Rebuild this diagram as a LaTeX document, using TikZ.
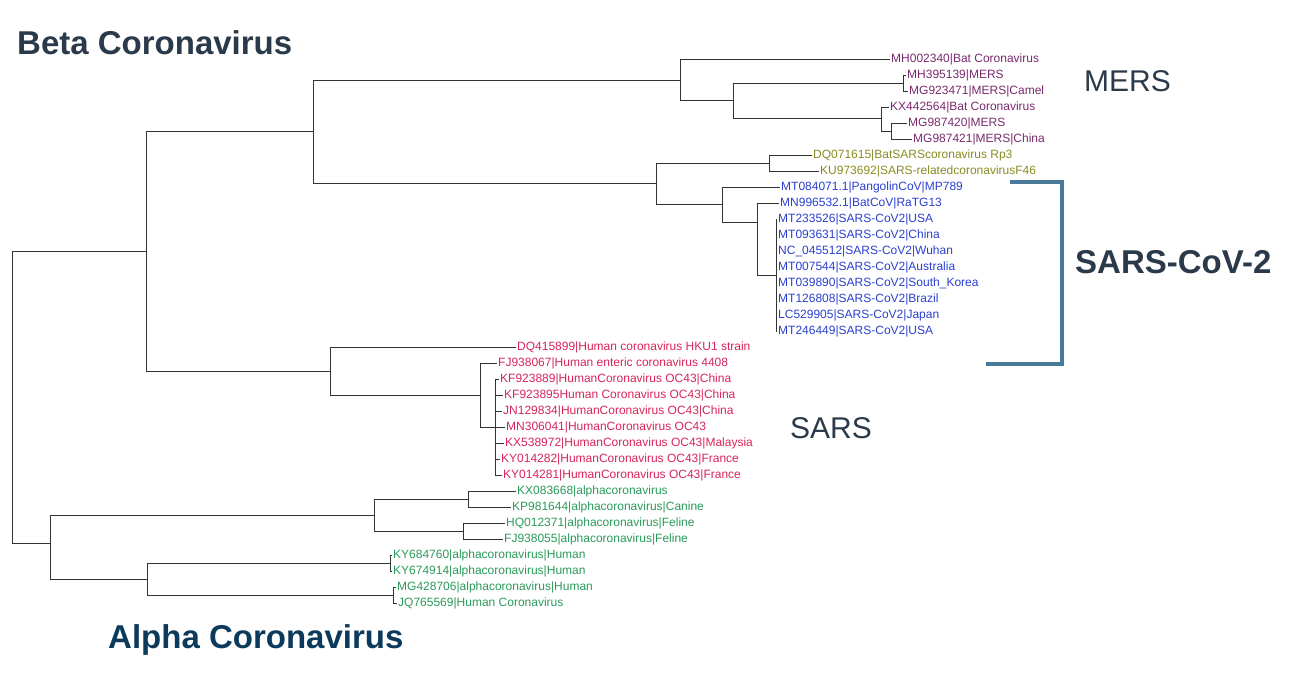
\documentclass[tikz,border=0pt]{standalone}
\usepackage{fontspec}
\setmainfont{Liberation Sans}
\begin{document}
\begin{tikzpicture}[x=1pt,y=-1pt,
  br/.style={draw=black!80,line width=0.8pt},
  lf/.style={anchor=west,inner sep=1pt,font=\fontsize{12}{12}\selectfont},
  mers/.style={lf,text=mersc},olive/.style={lf,text=olivec},
  blu/.style={lf,text=bluec},rd/.style={lf,text=redc},grn/.style={lf,text=greenc},
  big/.style={anchor=west,inner sep=0pt,font=\fontsize{30}{30}\selectfont}]
\definecolor{mersc}{HTML}{7A2A6E}\definecolor{olivec}{HTML}{8A8A22}
\definecolor{bluec}{HTML}{2A3FD0}\definecolor{redc}{HTML}{D8245A}
\definecolor{greenc}{HTML}{2A9A5A}\definecolor{slate}{HTML}{2B3A4A}
\definecolor{navy}{HTML}{0B3A5C}\definecolor{brk}{HTML}{4A7A99}
\useasboundingbox (0,0) rectangle (1298,682);
% leaves
\node[mers] (l1) at (890,59) {MH002340|Bat Coronavirus};
\node[mers] (l2) at (906,75) {MH395139|MERS};
\node[mers] (l3) at (908,91) {MG923471|MERS|Camel};
\node[mers] (l4) at (889,107) {KX442564|Bat Coronavirus};
\node[mers] (l5) at (907,123) {MG987420|MERS};
\node[mers] (l6) at (912,139) {MG987421|MERS|China};
\node[olive] (l7) at (812,155) {DQ071615|BatSARScoronavirus Rp3};
\node[olive] (l8) at (819,171) {KU973692|SARS-relatedcoronavirusF46};
\node[blu] (l9) at (780,187) {MT084071.1|PangolinCoV|MP789};
\node[blu] (l10) at (779,203) {MN996532.1|BatCoV|RaTG13};
\node[blu] (s1) at (777,219) {MT233526|SARS-CoV2|USA};
\node[blu] (s2) at (777,235) {MT093631|SARS-CoV2|China};
\node[blu] (s3) at (777,251) {NC\_045512|SARS-CoV2|Wuhan};
\node[blu] (s4) at (777,267) {MT007544|SARS-CoV2|Australia};
\node[blu] (s5) at (777,283) {MT039890|SARS-CoV2|South\_Korea};
\node[blu] (s6) at (777,299) {MT126808|SARS-CoV2|Brazil};
\node[blu] (s7) at (777,315) {LC529905|SARS-CoV2|Japan};
\node[blu] (s8) at (777,331) {MT246449|SARS-CoV2|USA};
\node[rd] (r1) at (516,347) {DQ415899|Human coronavirus HKU1 strain};
\node[rd] (r2) at (497,363) {FJ938067|Human enteric coronavirus 4408};
\node[rd] (o1) at (499,379) {KF923889|HumanCoronavirus OC43|China};
\node[rd] (o2) at (503,395) {KF923895Human Coronavirus OC43|China};
\node[rd] (o3) at (502,411) {JN129834|HumanCoronavirus OC43|China};
\node[rd] (o4) at (505,427) {MN306041|HumanCoronavirus OC43};
\node[rd] (o5) at (504,443) {KX538972|HumanCoronavirus OC43|Malaysia};
\node[rd] (o6) at (500,459) {KY014282|HumanCoronavirus OC43|France};
\node[rd] (o7) at (502,475) {KY014281|HumanCoronavirus OC43|France};
\node[grn] (g1) at (516,491) {KX083668|alphacoronavirus};
\node[grn] (g2) at (511,507) {KP981644|alphacoronavirus|Canine};
\node[grn] (g3) at (505,523) {HQ012371|alphacoronavirus|Feline};
\node[grn] (g4) at (503,539) {FJ938055|alphacoronavirus|Feline};
\node[grn] (g5) at (392,555) {KY684760|alphacoronavirus|Human};
\node[grn] (g6) at (392,571) {KY674914|alphacoronavirus|Human};
\node[grn] (g7) at (396,587) {MG428706|alphacoronavirus|Human};
\node[grn] (g8) at (397,603) {JQ765569|Human Coronavirus};
% internal nodes
\coordinate (n3) at (903,83); \coordinate (n5) at (891,131);
\coordinate (n4) at (881,118); \coordinate (n2) at (733,100);
\coordinate (n1) at (680,80); \coordinate (nO) at (769,163);
\coordinate (nS) at (776,275); \coordinate (nR) at (757,222);
\coordinate (nC) at (722,204); \coordinate (nB) at (656,183);
\coordinate (nBeta) at (313,131);
\coordinate (nOC) at (495,427); \coordinate (nE) at (480,395);
\coordinate (nH) at (330,371); \coordinate (nT) at (146,251);
\coordinate (nk) at (468,499); \coordinate (nf) at (463,531);
\coordinate (na1) at (374,515); \coordinate (nh1) at (390,563);
\coordinate (nh2) at (393,595); \coordinate (na2) at (147,579);
\coordinate (nA) at (50,543); \coordinate (root) at (12,397);
\draw[br] (n3) |- (l2.west); \draw[br] (n3) |- (l3.west);
\draw[br] (n5) |- (l5.west); \draw[br] (n5) |- (l6.west);
\draw[br] (n4) |- (l4.west); \draw[br] (n4) |- (n5);
\draw[br] (n2) |- (n3); \draw[br] (n2) |- (n4);
\draw[br] (n1) |- (l1.west); \draw[br] (n1) |- (n2);
\draw[br] (nO) |- (l7.west); \draw[br] (nO) |- (l8.west);
\foreach \s in {s1,s2,s3,s4,s5,s6,s7,s8} \draw[br] (nS) |- (\s.west);
\draw[br] (nR) |- (l10.west); \draw[br] (nR) |- (nS);
\draw[br] (nC) |- (l9.west); \draw[br] (nC) |- (nR);
\draw[br] (nB) |- (nO); \draw[br] (nB) |- (nC);
\draw[br] (nBeta) |- (n1); \draw[br] (nBeta) |- (nB);
\foreach \s in {o1,o2,o3,o4,o5,o6,o7} \draw[br] (nOC) |- (\s.west);
\draw[br] (nE) |- (r2.west); \draw[br] (nE) |- (nOC);
\draw[br] (nH) |- (r1.west); \draw[br] (nH) |- (nE);
\draw[br] (nT) |- (nBeta); \draw[br] (nT) |- (nH);
\draw[br] (nk) |- (g1.west); \draw[br] (nk) |- (g2.west);
\draw[br] (nf) |- (g3.west); \draw[br] (nf) |- (g4.west);
\draw[br] (na1) |- (nk); \draw[br] (na1) |- (nf);
\draw[br] (nh1) |- (g5.west); \draw[br] (nh1) |- (g6.west);
\draw[br] (nh2) |- (g7.west); \draw[br] (nh2) |- (g8.west);
\draw[br] (na2) |- (nh1); \draw[br] (na2) |- (nh2);
\draw[br] (nA) |- (na1); \draw[br] (nA) |- (na2);
\draw[br] (root) |- (nT); \draw[br] (root) |- (nA);
% bracket
\coordinate (b1) at (1010,182); \coordinate (b2) at (1062,182);
\coordinate (b3) at (1062,364); \coordinate (b4) at (986,364);
\draw[brk,line width=4.5pt] (b1) -- (b2) -- (b3) -- (b4);
% titles
\node[big,text=slate,font=\fontsize{33}{33}\selectfont\bfseries] (beta) at (17,43) {Beta Coronavirus};
\node[big,text=navy,font=\fontsize{33}{33}\selectfont\bfseries] (alpha) at (108,640) {Alpha Coronavirus};
\node[big,text=slate] (mers) at (1084,81) {MERS};
\node[big,text=slate] (sars) at (790,428) {SARS};
\node[big,text=slate,font=\fontsize{33}{33}\selectfont\bfseries] (cov) at (1075,262) {SARS-CoV-2};
\end{tikzpicture}
\end{document}
